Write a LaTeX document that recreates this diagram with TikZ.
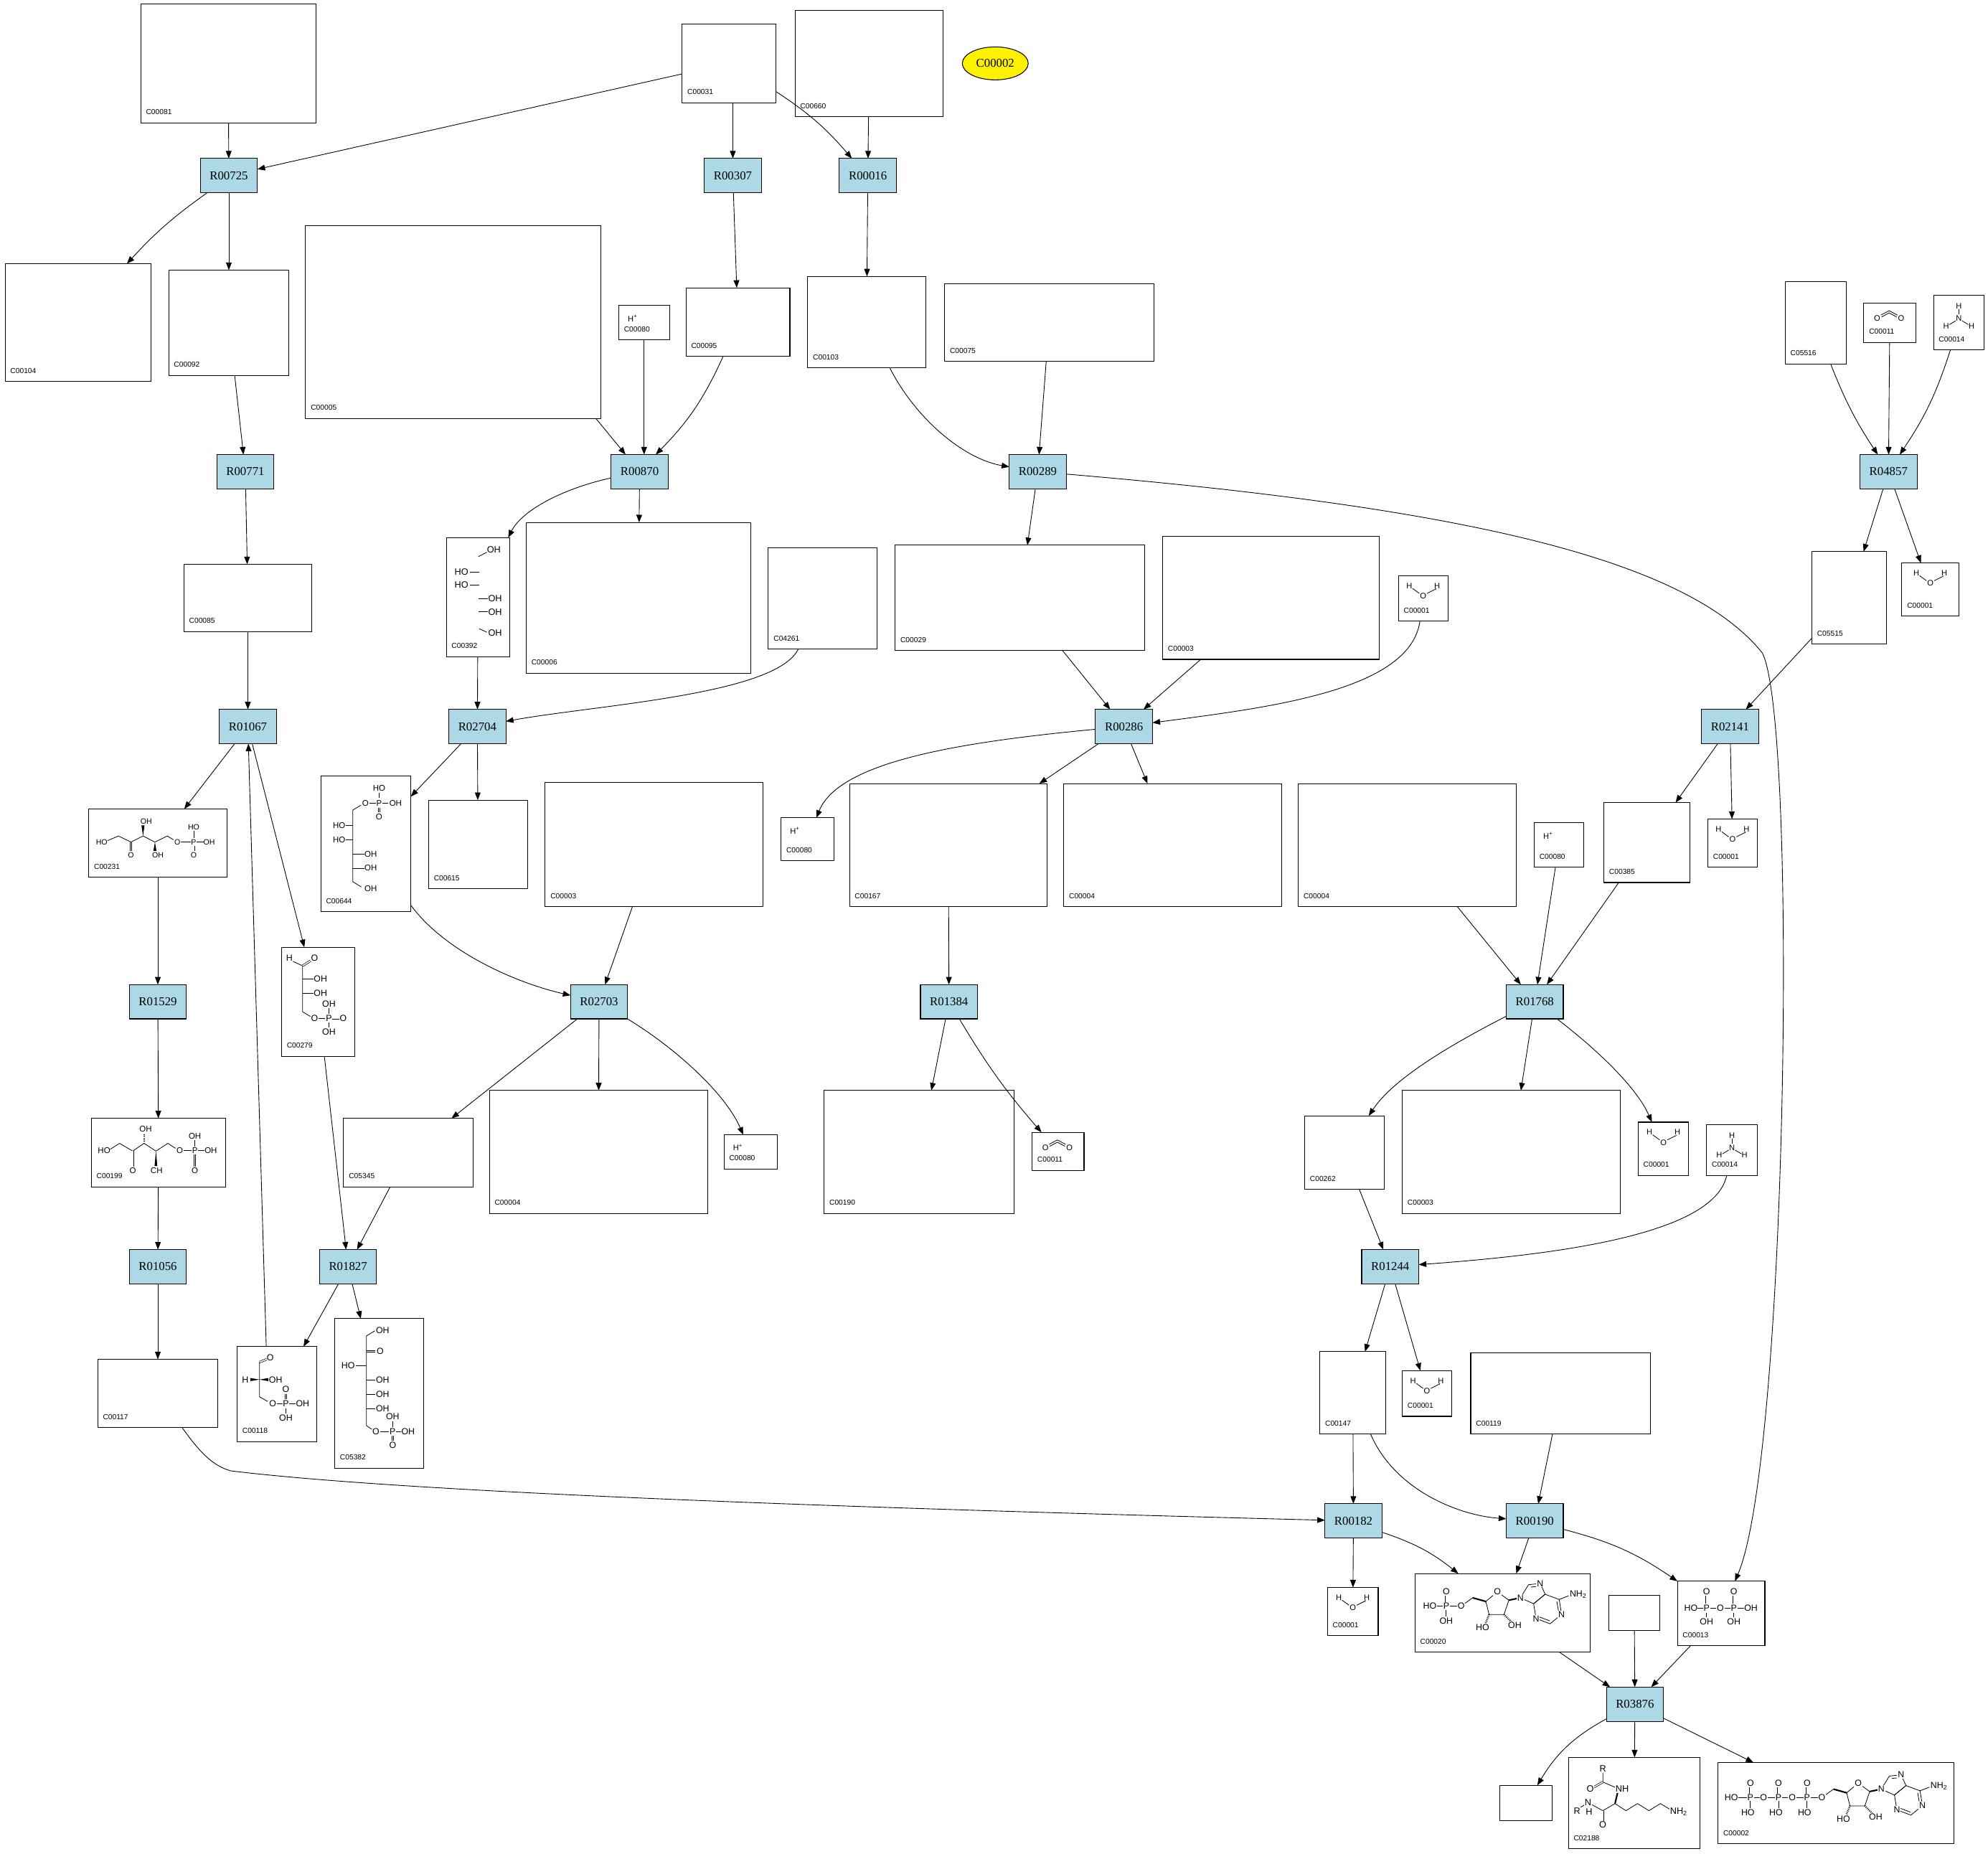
\documentclass[tikz,border=0pt]{standalone}
\usepackage{fontspec}
\setmainfont{Liberation Serif}
\newfontfamily\lsans{Liberation Sans}
\usetikzlibrary{arrows.meta,calc,shapes.geometric}
\definecolor{rxnblue}{RGB}{173,216,230}
\def\afs{7}
\tikzset{
  rxn/.style={draw, line width=0.6pt, fill=rxnblue, minimum width=45pt, minimum height=27pt, inner sep=0pt, outer sep=0pt, font=\fontsize{9.5}{10}\selectfont},
  cbox/.style={draw, line width=0.6pt, inner sep=0pt, outer sep=0pt, anchor=north west},
  idl/.style={anchor=base west, inner sep=0pt, font=\lsans\fontsize{5.8}{6}\selectfont},
  atm/.style={inner sep=0pt, font=\lsans\fontsize{6.3}{7}\selectfont},
  a/.style={inner sep=0pt, font=\lsans\fontsize{\afs}{\afs}\selectfont},
  lab/.style={a, fill=white, inner sep=0.5pt},
  ed/.style={-{Triangle[length=6pt,width=4.5pt]}, line width=0.5pt},
  bond/.style={line width=0.45pt},
  bd/.style={line width=0.45pt},
  dbd/.style={double, double distance=0.9pt, line width=0.4pt},
  hash/.style={line width=1.4pt, dash pattern=on 0.5pt off 0.8pt},
}
\newcommand\cpdbox[6]{%
  \node[cbox, minimum width={(#4-#2)*1pt}, minimum height={(#5-#3)*1pt}] (#1) at (#2,#3) {};
  \node[idl] at (#2+4,#5-6.5) {#6};}
\newcommand\empbox[5]{%
  \node[cbox, minimum width={(#4-#2)*1pt}, minimum height={(#5-#3)*1pt}] (#1) at (#2,#3) {};}
\newcommand\rxbox[3]{\node[rxn] (#1) at (#2,#3) {#1};}
\newcommand\watbox[5]{%
  \cpdbox{#1}{#2}{#3}{#4}{#5}{C00001}
  \node[atm] at ({(#2+#4)/2-11},#3+8) {H};
  \node[atm] at ({(#2+#4)/2},#3+16) {O};
  \node[atm] at ({(#2+#4)/2+11},#3+8) {H};
  \draw[bond] ({(#2+#4)/2-8.5},#3+10) -- ({(#2+#4)/2-3},#3+14);
  \draw[bond] ({(#2+#4)/2+3},#3+14) -- ({(#2+#4)/2+10},#3+10.5) -- ({(#2+#4)/2+10},#3+10);}
\newcommand\hplbox[5]{%
  \cpdbox{#1}{#2}{#3}{#4}{#5}{C00080}
  \node[atm, anchor=west] at (#2+7,#3+10) {H\textsuperscript{+}};}
\newcommand\cotwobox[5]{%
  \cpdbox{#1}{#2}{#3}{#4}{#5}{C00011}
  \node[atm] at ({(#2+#4)/2-10},#3+12) {O};
  \node[atm] at ({(#2+#4)/2+9},#3+12) {O};
  \draw[bond] ({(#2+#4)/2-7},#3+9.5) -- ({(#2+#4)/2-0.5},#3+6) -- ({(#2+#4)/2+6},#3+9.5);
  \draw[bond] ({(#2+#4)/2-6.5},#3+11) -- ({(#2+#4)/2-0.5},#3+7.8) -- ({(#2+#4)/2+5.5},#3+11);}
\newcommand\ammobox[5]{%
  \cpdbox{#1}{#2}{#3}{#4}{#5}{C00014}
  \node[atm] at ({(#2+#4)/2},#3+8.5) {H};
  \node[atm] at ({(#2+#4)/2},#3+18) {N};
  \node[atm] at ({(#2+#4)/2-10},#3+24) {H};
  \node[atm] at ({(#2+#4)/2+10},#3+24) {H};
  \draw[bond] ({(#2+#4)/2},#3+11) -- ({(#2+#4)/2},#3+15);
  \draw[bond] ({(#2+#4)/2-2.5},#3+20) -- ({(#2+#4)/2-7.5},#3+23);
  \draw[bond] ({(#2+#4)/2+2.5},#3+20) -- ({(#2+#4)/2+7.5},#3+23);}
% adenosine drawing, origin at N9
\newcommand\adenosine[2]{%
  \begin{scope}[shift={(#1,#2)}]
  \draw[bd] (-46.8,6.6) -- (-37.7,0);
  \draw[line width=1.2pt] (-37.7,0) -- (-27.3,2.9);
  \draw[bd] (-27.3,2.9) -- (-18.2,-4.7) -- (-9.1,1.9) -- (-13,13.2) -- (-24.7,13.2) -- cycle;
  \draw[line width=1.2pt] (-9.1,1.9) -- (0,0);
  \draw[hash] (-24.7,13.2) -- (-27.6,20.2);
  \draw[hash] (-13,13.2) -- (-7.2,19);
  \draw[bd] (0,0) -- (6.4,-10.3) -- (15.6,-11.3) -- (19.5,-2.8) -- (10.4,4.7) -- cycle;
  \draw[bd] (8.2,-8.4) -- (14.3,-9.1);
  \draw[bd] (10.4,4.7) -- (19.5,-2.8) -- (30.55,1.33) -- (32.5,13) -- (23.4,20.5) -- (12.35,16.35) -- cycle;
  \draw[bd] (28.73,2.83) -- (30.29,12.17);
  \draw[bd] (23.0,18.17) -- (14.17,14.85);
  \draw[bd] (30.55,1.33) -- (38,-1.6);
  \node[lab] at (0,0) {N};
  \node[lab] at (15.6,-11.3) {N};
  \node[lab] at (32.5,13) {N};
  \node[lab] at (12.35,16.35) {N};
  \node[lab] at (-18.2,-4.7) {O};
  \node[lab] at (-46.8,6.6) {O};
  \node[lab, anchor=west] at (38.2,-2.4) {NH\textsubscript{2}};
  \node[lab] at (-29.9,23.6) {HO};
  \node[lab] at (-4.4,21.7) {OH};
  \end{scope}}
\begin{document}
\begin{tikzpicture}[x=1pt,y=-1pt]
\fill[white] (0,0) rectangle (1568,1462);
\useasboundingbox (0,0) rectangle (1568,1462);
% ---------- compounds ----------
\cpdbox{c00081}{111}{3}{249}{97}{C00081}
\cpdbox{c00031}{538}{19}{612}{81}{C00031}
\cpdbox{c00660}{627}{8}{744}{92}{C00660}
\node[ellipse, draw, line width=0.6pt, fill=yellow, minimum width=52pt, minimum height=26pt, inner sep=0pt, font=\fontsize{9.5}{10}\selectfont] (e00002) at (785,50) {C00002};
\cpdbox{c00104}{4}{208}{119}{301}{C00104}
\cpdbox{c00092}{133}{213}{228}{296}{C00092}
\cpdbox{c00005}{241}{178}{474}{330}{C00005}
\hplbox{h1}{488}{241}{528}{268}
\cpdbox{c00095}{541}{227}{623}{281}{C00095}
\cpdbox{c00103}{637}{218}{730}{290}{C00103}
\cpdbox{c00075}{745}{224}{910}{285}{C00075}
\cpdbox{c05516}{1408}{222}{1456}{287}{C05516}
\cotwobox{co1}{1470}{239}{1511}{270}
\ammobox{nh1}{1525}{233}{1565}{276}
\cpdbox{c00085}{145}{445}{246}{498}{C00085}
\cpdbox{c00392}{352}{424}{402}{518}{C00392}
\cpdbox{c00006}{415}{412}{592}{531}{C00006}
\cpdbox{c04261}{606}{432}{692}{512}{C04261}
\cpdbox{c00029}{706}{430}{903}{513}{C00029}
\cpdbox{c00003a}{917}{423}{1088}{520}{C00003}
\watbox{w1}{1103}{454}{1142}{490}
\cpdbox{c05515}{1429}{435}{1488}{508}{C05515}
\watbox{w2}{1500}{444}{1545}{486}
\cpdbox{c00231}{70}{638}{179}{692}{C00231}
\cpdbox{c00644}{253}{612}{324}{719}{C00644}
\cpdbox{c00615}{338}{631}{416}{701}{C00615}
\cpdbox{c00003b}{430}{617}{602}{715}{C00003}
\hplbox{h2}{616}{645}{658}{679}
\cpdbox{c00167}{670}{618}{826}{715}{C00167}
\cpdbox{c00004a}{839}{618}{1011}{715}{C00004}
\cpdbox{c00004b}{1024}{618}{1196}{715}{C00004}
\hplbox{h3}{1210}{649}{1249}{684}
\cpdbox{c00385}{1265}{633}{1333}{696}{C00385}
\watbox{w3}{1347}{646}{1386}{684}
\cpdbox{c00279}{222}{747}{280}{833}{C00279}
\cpdbox{c00199}{72}{882}{178}{936}{C00199}
\cpdbox{c05345}{271}{882}{373}{936}{C05345}
\cpdbox{c00004c}{386}{860}{558}{957}{C00004}
\hplbox{h4}{571}{895}{613}{922}
\cpdbox{c00190}{650}{860}{800}{957}{C00190}
\cotwobox{co2}{814}{893}{855}{923}
\cpdbox{c00262}{1029}{880}{1092}{938}{C00262}
\cpdbox{c00003c}{1106}{860}{1278}{957}{C00003}
\watbox{w4}{1292}{885}{1332}{927}
\ammobox{nh2}{1346}{887}{1386}{927}
\cpdbox{c00117}{77}{1072}{172}{1126}{C00117}
\cpdbox{c00118}{187}{1062}{250}{1137}{C00118}
\cpdbox{c05382}{264}{1040}{334}{1158}{C05382}
\cpdbox{c00147}{1041}{1066}{1093}{1131}{C00147}
\watbox{w5}{1106}{1081}{1145}{1117}
\cpdbox{c00119}{1160}{1067}{1302}{1131}{C00119}
\watbox{w6}{1047}{1252}{1087}{1290}
\cpdbox{c00020}{1116}{1241}{1254}{1303}{C00020}
\empbox{e1}{1269}{1258}{1309}{1286}
\cpdbox{c00013}{1323}{1247}{1392}{1298}{C00013}
\empbox{e2}{1183}{1408}{1224}{1436}
\cpdbox{c02188}{1237}{1386}{1341}{1458}{C02188}
\cpdbox{c00002}{1355}{1390}{1541}{1454}{C00002}
% ---------- structures drawn inside some boxes ----------
% C00392
\begin{scope}\def\afs{7.2}
\node[a] at (389.5,433.3) {OH}; \draw[bd] (377.3,439) -- (384,435.5);
\node[a] at (364,451) {HO}; \draw[bd] (370.5,451) -- (378,451);
\node[a] at (364,461.2) {HO}; \draw[bd] (370.5,461.2) -- (378,461.2);
\node[a] at (390.5,472.2) {OH}; \draw[bd] (377.6,472.2) -- (384.8,472.2);
\node[a] at (390.5,482.6) {OH}; \draw[bd] (377.6,482.6) -- (384.8,482.6);
\node[a] at (390.5,499) {OH}; \draw[bd] (377.9,495.8) -- (384,498.6);
\end{scope}
% C00644
\begin{scope}\def\afs{6.5}
\node[a] at (299,621.5) {HO}; \draw[bd] (299,625) -- (299,629.5);
\node[a] at (288.2,633.3) {O}; \draw[bd] (291.3,633.3) -- (296.3,633.3);
\node[a] at (299,633.3) {P}; \draw[bd] (301.6,633.3) -- (306,633.3);
\node[a] at (312,633.3) {OH};
\draw[dbd] (299,637) -- (299,640.5); \node[a] at (299,644) {O};
\draw[bd] (284.8,635) -- (278.3,638.8) -- (278.3,695.4) -- (285,699.5);
\node[a] at (267.5,650.8) {HO}; \draw[bd] (272.5,650.8) -- (278.3,650.8);
\node[a] at (267.5,662.1) {HO}; \draw[bd] (272.5,662.1) -- (278.3,662.1);
\node[a] at (292.4,673.4) {OH}; \draw[bd] (278.3,673.4) -- (287.3,673.4);
\node[a] at (292.4,684.7) {OH}; \draw[bd] (278.3,684.7) -- (287.3,684.7);
\node[a] at (292.4,701.1) {OH};
\end{scope}
% C00279
\begin{scope}\def\afs{7}
\node[a] at (228.3,755.5) {H}; \draw[bd] (231,758.2) -- (238.7,761.7);
\draw[dbd] (238.7,761.7) -- (245,757.6); \node[a] at (248.1,755.5) {O};
\draw[bd] (238.7,761.7) -- (238.7,798) -- (244.8,801.6);
\draw[bd] (238.7,771.9) -- (247,771.9); \node[a] at (252.8,771.9) {OH};
\draw[bd] (238.7,783.2) -- (247,783.2); \node[a] at (252.8,783.2) {OH};
\node[a] at (248.1,803.1) {O}; \draw[bd] (251.3,803.1) -- (256.6,803.1);
\node[a] at (259.4,803.1) {P}; \draw[dbd] (262.2,803.1) -- (267.4,803.1);
\node[a] at (270.7,803.1) {O};
\node[a] at (259.4,791.9) {OH}; \draw[bd] (259.4,795.3) -- (259.4,799.6);
\node[a] at (259.4,813.9) {OH}; \draw[bd] (259.4,806.6) -- (259.4,810.5);
\end{scope}
% C05382
\begin{scope}\def\afs{7}
\draw[bd] (295.6,1049.6) -- (289,1053.6) -- (289,1124.3) -- (293.3,1127.3);
\node[a] at (301.8,1049.2) {OH};
\draw[dbd] (289,1065.8) -- (296,1065.8); \node[a] at (299.9,1065.8) {O};
\node[a] at (274.5,1077) {HO}; \draw[bd] (280.5,1077) -- (289,1077);
\draw[bd] (289,1088.3) -- (296,1088.3); \node[a] at (301.8,1088.3) {OH};
\draw[bd] (289,1099.6) -- (296,1099.6); \node[a] at (301.8,1099.6) {OH};
\draw[bd] (289,1110.9) -- (296,1110.9); \node[a] at (301.8,1110.9) {OH};
\node[a] at (296.5,1129) {O}; \draw[bd] (299.7,1129) -- (306.7,1129);
\node[a] at (309.7,1129) {P}; \draw[bd] (312.5,1129) -- (316.4,1129);
\node[a] at (321.9,1129) {OH};
\node[a] at (309.7,1117.3) {OH}; \draw[bd] (309.7,1120.8) -- (309.7,1125.5);
\draw[dbd] (309.7,1132.5) -- (309.7,1136.3); \node[a] at (309.7,1139.8) {O};
\end{scope}
% C00118
\begin{scope}\def\afs{7}
\node[a] at (213.1,1070.6) {O}; \draw[dbd] (204.7,1074.3) -- (210.4,1072);
\draw[bd] (204.7,1074.3) -- (204.7,1101.6) -- (211.2,1105.3);
\node[a] at (193.4,1088) {H}; \fill (197.5,1086.8) -- (197.5,1089.2) -- (204.7,1088) -- cycle;
\node[a] at (217.4,1088) {OH}; \fill (211.6,1086.8) -- (211.6,1089.2) -- (204.7,1088) -- cycle;
\node[a] at (215.1,1106.9) {O}; \draw[bd] (218.4,1106.9) -- (222.7,1106.9);
\node[a] at (225.5,1106.9) {P}; \draw[bd] (228.3,1106.9) -- (233.2,1106.9);
\node[a] at (238.7,1106.9) {OH};
\draw[dbd] (225.5,1103.2) -- (225.5,1099.2); \node[a] at (225.5,1095.6) {O};
\draw[bd] (225.5,1110.5) -- (225.5,1114.5); \node[a] at (225.5,1118.2) {OH};
\end{scope}
% C00013
\begin{scope}\def\afs{7}
\node[a] at (1333.7,1268.3) {HO}; \draw[bd] (1338.8,1268.3) -- (1343.2,1268.3);
\node[a] at (1346,1268.3) {P}; \draw[bd] (1348.8,1268.3) -- (1353.7,1268.3);
\node[a] at (1356.9,1268.3) {O}; \draw[bd] (1360.1,1268.3) -- (1364.7,1268.3);
\node[a] at (1367.5,1268.3) {P}; \draw[bd] (1370.3,1268.3) -- (1375.4,1268.3);
\node[a] at (1381,1268.3) {OH};
\node[a] at (1346,1255) {O}; \draw[dbd] (1346,1258.5) -- (1346,1264.6);
\node[a] at (1367.5,1255) {O}; \draw[dbd] (1367.5,1258.5) -- (1367.5,1264.6);
\node[a] at (1346,1279.2) {OH}; \draw[bd] (1346,1272) -- (1346,1275.6);
\node[a] at (1367.5,1279.2) {OH}; \draw[bd] (1367.5,1272) -- (1367.5,1275.6);
\end{scope}
% C00231
\begin{scope}\def\afs{6}
\node[a] at (80.2,664.1) {HO};
\draw[bd] (84.8,663) -- (93.4,659.3) -- (103.3,664.1) -- (112.8,659.3) -- (122.2,664.1) -- (132,659.3) -- (136.8,662.3);
\node[a] at (139.9,664.1) {O}; \draw[bd] (142.8,664.1) -- (150.4,664.1);
\node[a] at (152.8,664.1) {P}; \draw[bd] (155.3,664.1) -- (160.6,664.1);
\node[a] at (165,664.1) {OH};
\node[a] at (152.8,652.3) {HO}; \draw[bd] (152.8,655.4) -- (152.8,661);
\draw[dbd] (152.8,667.2) -- (152.8,671.2); \node[a] at (152.8,674.4) {O};
\draw[dbd] (103.3,664.1) -- (103.3,671.2); \node[a] at (103.3,674.4) {O};
\node[a] at (115.4,647.6) {OH}; \fill (112.8,659.3) -- (111.6,651) -- (114,651) -- cycle;
\node[a] at (124.5,674.4) {OH}; \fill (122.2,664.1) -- (121,671) -- (123.4,671) -- cycle;
\end{scope}
% C00199
\begin{scope}\def\afs{6.5}
\node[a] at (82.1,907.4) {HO};
\draw[bd] (86.9,906.4) -- (94.3,901.7) -- (104.7,907.8) -- (113.6,901.7) -- (123,907.8) -- (132.4,901.7) -- (138.4,905.6);
\node[a] at (141.8,907.4) {O}; \draw[bd] (144.9,907.4) -- (151.2,907.4);
\node[a] at (153.7,907.4) {P}; \draw[bd] (156.3,907.4) -- (161.5,907.4);
\node[a] at (166.3,907.4) {OH};
\node[a] at (153.7,896.1) {OH}; \draw[bd] (153.7,899.4) -- (153.7,904.2);
\draw[dbd] (153.7,910.6) -- (153.7,919.8); \node[a] at (153.7,923.4) {O};
\draw[dbd] (104.7,907.8) -- (104.7,919.8); \node[a] at (104.7,923.4) {O};
\node[a] at (114.9,890.4) {OH}; \draw[hash] (113.6,901.7) -- (113.6,894);
\node[a] at (123.5,923.4) {CH}; \fill (123,907.8) -- (121.9,919.6) -- (124.1,919.6) -- cycle;
\end{scope}
% C00002 (ATP)
\begin{scope}\def\afs{7}
\draw[bd] (1370,1417.6) -- (1437,1417.6);
\foreach \px in {1380.6,1402.7,1425.3} {
  \draw[dbd] (\px,1409.5) -- (\px,1414.5);
  \draw[bd] (\px,1417.6) -- (\px,1426);
  \node[lab] at (\px,1406.3) {O};
  \node[lab] at (\px-2,1429.2) {HO};
  \node[lab] at (\px,1417.6) {P};}
\node[lab] at (1365.5,1417.6) {HO};
\node[lab] at (1391,1417.6) {O};
\node[lab] at (1413.6,1417.6) {O};
\adenosine{1483.8}{1411.0}
\end{scope}
% C00020 (AMP)
\begin{scope}\def\afs{7}
\draw[bd] (1131,1266.7) -- (1152.4,1266.7);
\draw[dbd] (1140.7,1258.6) -- (1140.7,1263.6);
\draw[bd] (1140.7,1266.7) -- (1140.7,1275);
\node[lab] at (1140.7,1255.4) {O};
\node[lab] at (1140.7,1278.2) {OH};
\node[lab] at (1127.7,1266.7) {HO};
\node[lab] at (1140.7,1266.7) {P};
\adenosine{1199.2}{1260.1}
\end{scope}
% C02188
\begin{scope}\def\afs{7.2}
\draw[bd] (1264.2,1398) -- (1264.2,1405.4) -- (1277.2,1411);
\draw[dbd] (1264.2,1405.4) -- (1256.5,1409.8);
\draw[line width=1.2pt] (1275.8,1414) -- (1273.8,1422.4);
\draw[bd] (1273.8,1422.4) -- (1282.4,1428) -- (1291.5,1422.4) -- (1300.5,1428) -- (1309.6,1422.4) -- (1318.2,1427.6);
\draw[bd] (1273.8,1422.4) -- (1264.2,1428) -- (1252.5,1421.6);
\draw[dbd] (1264.2,1428) -- (1264.2,1436);
\draw[bd] (1252.5,1421.6) -- (1244.5,1426.8);
\node[lab] at (1264.2,1395) {R};
\node[lab] at (1254.3,1411) {O};
\node[lab] at (1279.4,1411) {NH};
\node[lab] at (1264.2,1439) {O};
\node[lab] at (1252.5,1421.6) {N};
\node[lab] at (1253.4,1429) {H};
\node[lab] at (1243.9,1428.5) {R};
\node[lab, anchor=west] at (1316.5,1428.6) {NH\textsubscript{2}};
\end{scope}
% ---------- reactions ----------
\rxbox{R00725}{180.5}{138.5}
\rxbox{R00307}{578}{138.5}
\rxbox{R00016}{684.5}{138.5}
\rxbox{R00771}{193.5}{372}
\rxbox{R00870}{504.5}{372}
\rxbox{R00289}{818.5}{372}
\rxbox{R04857}{1489.5}{372}
\rxbox{R01067}{195.5}{573}
\rxbox{R02704}{376.5}{573}
\rxbox{R00286}{886.5}{573}
\rxbox{R02141}{1364.5}{573}
\rxbox{R01529}{124.5}{790}
\rxbox{R02703}{472.5}{790}
\rxbox{R01384}{748.5}{790}
\rxbox{R01768}{1210.5}{790}
\rxbox{R01056}{124.5}{999}
\rxbox{R01827}{274.5}{999}
\rxbox{R01244}{1096.5}{999}
\rxbox{R00182}{1067.5}{1199.5}
\rxbox{R00190}{1210.5}{1199.5}
\rxbox{R03876}{1289.5}{1344}
% ---------- edges ----------
\draw[ed] (c00081) -- (R00725);
\draw[ed] (c00031) -- (R00725);
\draw[ed] (c00031.south -| R00307.north) -- (R00307);
\draw[ed] (c00031) to[bend left=8] (R00016);
\draw[ed] (c00660) -- (R00016);
\draw[ed] (R00725) to[bend right=6] (c00104);
\draw[ed] (R00725) -- (c00092);
\draw[ed] (R00307) -- (c00095);
\draw[ed] (R00016) -- (c00103);
\draw[ed] (c00092) -- (R00771);
\draw[ed] ($(c00005.south east)+(-4,0)$) -- (R00870);
\draw[ed] (h1.south) -- (h1.south |- R00870.north);
\draw[ed] (c00095) to[bend left=10] (R00870);
\draw[ed] (c00103) .. controls (722,330) and (760,362) .. (R00289);
\draw[ed] (c00075) -- (R00289);
\draw[ed] (c05516) to[bend right=6] (R04857);
\draw[ed] (co1) -- (R04857);
\draw[ed] (nh1) to[bend left=8] (R04857);
\draw[ed] (R00771) -- (c00085);
\draw[ed] (R00870) .. controls (445,385) and (412,402) .. (c00392);
\draw[ed] (R00870) -- (c00006);
\draw[ed] (R00289) -- (c00029);
\draw[ed] (R00289) .. controls (1150,400) and (1330,440) .. (1390,515) .. controls (1418,570) and (1410,1150) .. (c00013);
\draw[ed] (R04857) -- (c05515);
\draw[ed] (R04857) -- (w2);
\draw[ed] (c00085) -- (R01067);
\draw[ed] (c00392) -- (R02704);
\draw[ed] (c04261) .. controls (612,548) and (470,556) .. (R02704);
\draw[ed] (c00029) -- (R00286);
\draw[ed] (c00003a) -- (R00286);
\draw[ed] (w1) .. controls (1112,545) and (1000,558) .. (R00286);
\draw[ed] (c05515) -- (R02141);
\draw[ed] (R01067) -- (c00231);
\draw[ed] (R01067) -- (c00279);
\draw[ed] ($(c00118.north west)+(23,0)$) -- (R01067);
\draw[ed] (R02704) -- (c00644);
\draw[ed] (R02704) -- (c00615);
\draw[ed] (R00286) .. controls (760,585) and (662,600) .. (h2);
\draw[ed] (R00286) -- (c00167);
\draw[ed] (R00286) -- (c00004a);
\draw[ed] (R02141) -- (c00385);
\draw[ed] (R02141) -- (w3);
\draw[ed] (c00231) -- (R01529);
\draw[ed] (c00644) .. controls (352,752) and (410,776) .. (R02703);
\draw[ed] (c00003b) -- (R02703);
\draw[ed] (c00167) -- (R01384);
\draw[ed] (c00004b) -- (R01768);
\draw[ed] (h3) -- (R01768);
\draw[ed] (c00385) -- (R01768);
\draw[ed] (R01529) -- (c00199);
\draw[ed] (R02703) -- (c05345);
\draw[ed] (R02703) -- (c00004c);
\draw[ed] (R02703) .. controls (532,826) and (572,862) .. (h4);
\draw[ed] (R01384) -- (c00190);
\draw[ed] (R01384) to[bend right=5] (co2);
\draw[ed] (R01768) .. controls (1140,826) and (1098,852) .. (c00262);
\draw[ed] (R01768) -- (c00003c);
\draw[ed] (R01768) .. controls (1265,832) and (1292,860) .. (w4);
\draw[ed] (c00279) -- (R01827);
\draw[ed] (c05345) -- (R01827);
\draw[ed] (c00262) -- (R01244);
\draw[ed] (nh2) .. controls (1352,975) and (1220,990) .. (R01244);
\draw[ed] (c00199) -- (R01056);
\draw[ed] (R01056) -- (c00117);
\draw[ed] (R01827) -- (c00118);
\draw[ed] (R01827) -- (c05382);
\draw[ed] (R01244) -- (c00147);
\draw[ed] (R01244) -- (w5);
\draw[ed] (c00117) .. controls (158,1146) and (168,1156) .. (182,1160) .. controls (330,1178) and (700,1190) .. (R00182);
\draw[ed] (c00147) -- (R00182);
\draw[ed] (c00147) .. controls (1100,1175) and (1150,1195) .. (R00190);
\draw[ed] (c00119) -- (R00190);
\draw[ed] (R00182) -- (w6);
\draw[ed] (R00182) to[bend left=10] (c00020);
\draw[ed] (R00190) -- (c00020);
\draw[ed] (R00190) to[bend left=10] (c00013);
\draw[ed] (c00020) -- (R03876);
\draw[ed] (e1) -- (R03876);
\draw[ed] (c00013) -- (R03876);
\draw[ed] (R03876) to[bend right=15] (e2);
\draw[ed] (R03876) -- (c02188);
\draw[ed] (R03876) -- (c00002);
\end{tikzpicture}
\end{document}
